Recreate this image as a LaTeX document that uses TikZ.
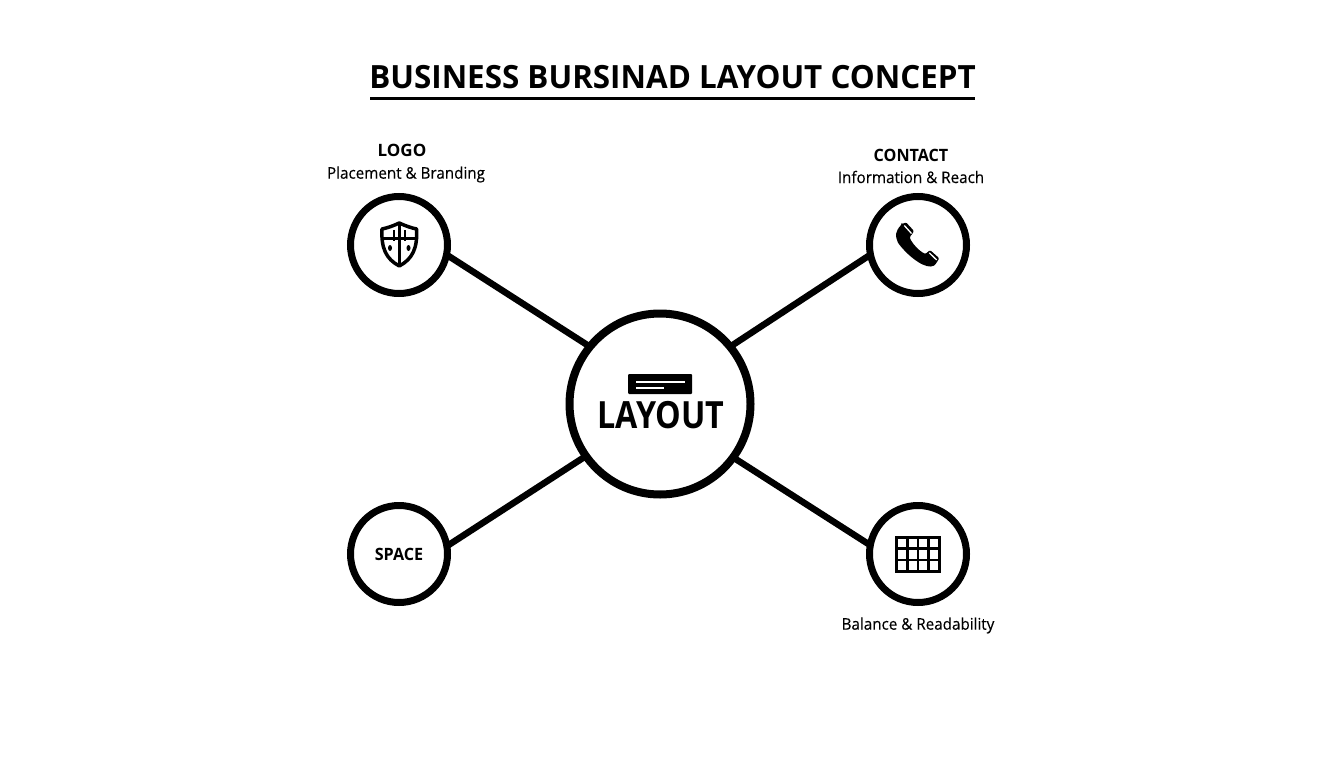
\documentclass[tikz,border=0pt]{standalone}
\usepackage{fontspec}
\setmainfont{Open Sans}
\newfontfamily\medfont[FakeBold=0.25]{Open Sans}
\begin{document}
\begin{tikzpicture}[x=1pt,y=-1pt,
  hub/.style={circle,draw=black,line width=8pt,fill=white,minimum size=181pt,inner sep=0pt},
  sat/.style={circle,draw=black,line width=7pt,fill=white,minimum size=97pt,inner sep=0pt},
  link/.style={draw=black,line width=6.5pt,shorten <=-3pt,shorten >=-3pt},
  headtxt/.style={inner sep=0pt,font=\fontsize{17}{17}\selectfont\bfseries},
  subtxt/.style={inner sep=0pt,font=\fontsize{16}{16}\medfont}]
\useasboundingbox (0,0) rectangle (1344,768);
\fill[white] (0,0) rectangle (1344,768);
\node[hub] (center) at (660,404) {};
\node[sat] (logo) at (399,245) {};
\node[sat] (contact) at (918,245) {};
\node[sat] (space) at (399,554) {};
\node[sat] (grid) at (918,554) {};
\draw[link] (center.141) -- (logo.-13.5);
\draw[link] (center.39.7) -- (contact.193);
\draw[link] (center.215) -- (space.11);
\draw[link] (center.-36) -- (grid.168);
% title
\node[inner sep=0pt,font=\fontsize{32}{32}\selectfont\bfseries,xscale=0.98] (title) at (672.5,77) {BUSINESS BURSINAD LAYOUT CONCEPT};
\coordinate (ul) at (370,98); \coordinate (ur) at (975,98);
\draw[line width=3pt] (ul) -- (ur);
% labels
\node[headtxt] (logot) at (402,150.5) {LOGO};
\node[subtxt,xscale=0.95] (logos) at (406,174.5) {Placement \& Branding};
\node[headtxt,xscale=0.95] (contactt) at (911,155) {CONTACT};
\node[subtxt,xscale=0.95] (contacts) at (911,177) {Information \& Reach};
\node[headtxt,xscale=0.95] (spacet) at (399,554.5) {SPACE};
\node[subtxt,xscale=0.95] (grids) at (918,625.5) {Balance \& Readability};
\node[inner sep=0pt,font=\fontsize{37.5}{37.5}\selectfont\bfseries,xscale=0.86] (layout) at (661,415.5) {LAYOUT};
% layout icon
\fill[black,rounded corners=1pt] (628,374) rectangle (692,394);
\draw[white,line width=1.5pt] (636,382) -- (685,382);
\draw[white,line width=1.5pt] (636,388) -- (664,388);
% shield
\draw[black,line width=3.5pt,line join=round,fill=white] (399.3,223) .. controls (393,226) and (387,228) .. (382,229)
  .. controls (381,248) and (386,259) .. (399.3,266)
  .. controls (412.6,259) and (417.6,248) .. (416.6,229)
  .. controls (411.6,228) and (405.6,226) .. (399.3,223) -- cycle;
\draw[black,line width=3.5pt] (399.3,223) -- (399.3,266);
\draw[black,line width=3pt] (383,238) -- (416,238);
\draw[black,line width=2pt] (393.5,230) -- (393.5,241);
\draw[black,line width=2pt] (405.2,230) -- (405.2,241);
\fill[black] (390,248) ellipse [x radius=2pt,y radius=3pt];
\fill[black] (408.5,248) ellipse [x radius=2pt,y radius=3pt];
% phone
\fill[black,rounded corners=1.2pt] (901.7,224.3) -- (906,222.3) -- (914,231) -- (911,235.7) -- (909.5,237)
  .. controls (912,243.3) and (919,251) .. (925.5,254)
  -- (930,250) -- (939.3,258.3) -- (935,265)
  .. controls (926.7,270) and (910,258.3) .. (898.3,243.3)
  .. controls (895,236) and (895,231.7) .. (901.7,224.3) -- cycle;
\draw[white,line width=1.3pt] (904.3,225.5) -- (911.5,233.5);
\draw[white,line width=1.3pt] (929.3,252.8) -- (936.7,260);
% grid
\draw[black,line width=3pt] (896.5,537) rectangle (939.5,571.5);
\foreach \gx in {907.25,918,928.75} \draw[black,line width=2.6pt] (\gx,537) -- (\gx,571.5);
\foreach \gy in {548.5,560} \draw[black,line width=2.6pt] (896.5,\gy) -- (939.5,\gy);
\end{tikzpicture}
\end{document}
